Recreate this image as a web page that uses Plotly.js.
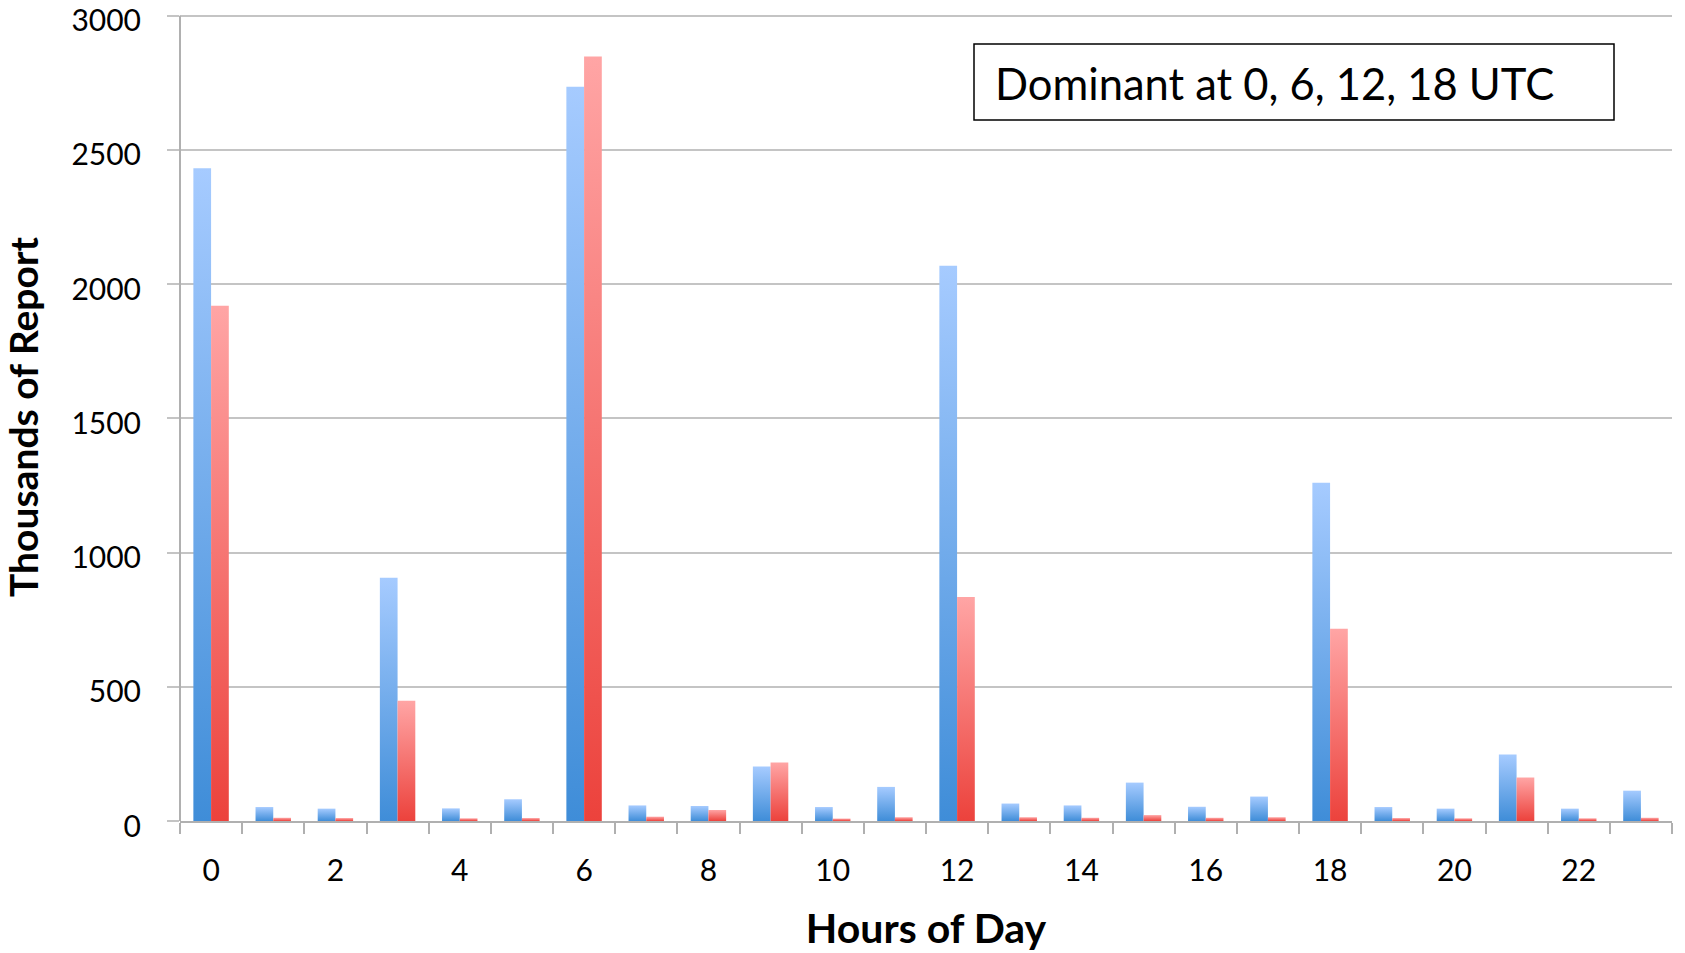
<!DOCTYPE html>
<html>
<head>
<meta charset="utf-8">
<script src="https://cdn.plot.ly/plotly-3.0.1.min.js"></script>
<style>
  html, body { margin: 0; padding: 0; background: #ffffff; }
  #chart { width: 1685px; height: 953px; }
</style>
</head>
<body>
<div id="chart"></div>
<script>
// ---- data ----
const hours = [0,1,2,3,4,5,6,7,8,9,10,11,12,13,14,15,16,17,18,19,20,21,22,23];
const seriesBlue = [2432, 52, 46, 906, 47, 81, 2735, 58, 56, 203, 52, 127, 2068, 65, 58, 143, 53, 91, 1260, 52, 46, 248, 46, 113];
const seriesRed  = [1919, 12, 11, 448, 10, 11, 2848, 16, 41, 218,  9,  14,  834, 14, 12,  22, 12, 14,  716, 11, 10, 162, 10,  12];
const xTickVals = [0,2,4,6,8,10,12,14,16,18,20,22];
const xTickText = ["0","2","4","6","8","10","12","14","16","18","20","22"];
const yTickVals = [0,500,1000,1500,2000,2500,3000];
const boundaries = [-0.5,0.5,1.5,2.5,3.5,4.5,5.5,6.5,7.5,8.5,9.5,10.5,11.5,12.5,13.5,14.5,15.5,16.5,17.5,18.5,19.5,20.5,21.5,22.5,23.5];
const annotationText = "Dominant at 0, 6, 12, 18 UTC";
const xTitle = "Hours of Day";
const yTitle = "Thousands of Report";

const FONT = "Lato, 'Open Sans', sans-serif";
const GRID = "#c4c4c4";
const AXIS = "#b0b0b0";

const traces = [
  { type: "bar", name: "Series 1", x: hours, y: seriesBlue,
    marker: { color: "#6fa9ea", line: { width: 0 } }, hoverinfo: "x+y" },
  { type: "bar", name: "Series 2", x: hours, y: seriesRed,
    marker: { color: "#f46e6a", line: { width: 0 } }, hoverinfo: "x+y" }
];

// plot area in pixels: x 180..1672, y 13..821 (3000 gridline near y=16)
const L = 180, R = 13, T = 13, B = 132;
const W = 1685, H = 953;
const pw = W - L - R, ph = H - T - B;
const px = v => (v - L) / pw;
const py = v => (H - B - v) / ph;

const layout = {
  width: W, height: H,
  margin: { l: L, r: R, t: T, b: B, pad: 0 },
  paper_bgcolor: "#ffffff",
  plot_bgcolor: "#ffffff",
  showlegend: false,
  barmode: "group",
  bargap: 0.43,
  bargroupgap: 0,
  font: { family: FONT, color: "#000000" },
  xaxis: {
    type: "linear",
    range: [-0.5, 23.5],
    tickmode: "array",
    tickvals: xTickVals,
    ticktext: xTickText,
    ticks: "",
    showgrid: false,
    zeroline: false,
    showline: true,
    linecolor: AXIS,
    linewidth: 2,
    ticklabelstandoff: 22,
    tickfont: { family: FONT, size: 30, color: "#000000" },
    minor: { tickmode: "array", tickvals: boundaries, ticks: "outside", ticklen: 11, tickwidth: 2, tickcolor: AXIS, showgrid: false },
    title: { text: xTitle, font: { family: FONT, size: 41, color: "#000000", weight: "bold" }, standoff: 28 },
    fixedrange: true
  },
  yaxis: {
    range: [0, 3010],
    tickmode: "array",
    tickvals: yTickVals,
    ticks: "outside",
    ticklen: 12,
    tickwidth: 2,
    tickcolor: GRID,
    showgrid: true,
    gridcolor: GRID,
    gridwidth: 2,
    zeroline: false,
    showline: false,
    ticklabelstandoff: 20,
    ticklabelshift: 5,
    ticklabeloverflow: "allow",
    tickfont: { family: FONT, size: 30, color: "#000000" },
    title: { text: yTitle, font: { family: FONT, size: 39, color: "#000000", weight: "bold" }, standoff: 24 },
    fixedrange: true
  },
  shapes: [
    // vertical axis line from 0 to 3000
    { type: "line", xref: "paper", yref: "y", x0: 0, x1: 0, y0: 0, y1: yTickVals[yTickVals.length - 1],
      line: { color: AXIS, width: 2 }, layer: "above" },
    { type: "rect", xref: "paper", yref: "paper",
      x0: px(974), x1: px(1614), y0: py(120), y1: py(44),
      line: { color: "#000000", width: 1.5 }, fillcolor: "#ffffff", layer: "above" }
  ],
  annotations: [
    { xref: "paper", yref: "paper", x: px(993), y: py(83), xanchor: "left", yanchor: "middle",
      text: annotationText, showarrow: false, align: "left",
      font: { family: FONT, size: 43.5, color: "#000000" } }
  ]
};

Plotly.newPlot("chart", traces, layout, { displayModeBar: false, staticPlot: true }).then(gd => {
  // vertical gradient fill for each bar (light top, darker bottom)
  const svg = gd.querySelector(".main-svg");
  const ns = "http://www.w3.org/2000/svg";
  let defs = svg.querySelector("defs");
  if (!defs) { defs = document.createElementNS(ns, "defs"); svg.insertBefore(defs, svg.firstChild); }
  const mk = (id, top, bottom) => {
    const g = document.createElementNS(ns, "linearGradient");
    g.setAttribute("id", id);
    g.setAttribute("x1", "0"); g.setAttribute("y1", "0");
    g.setAttribute("x2", "0"); g.setAttribute("y2", "1");
    const s1 = document.createElementNS(ns, "stop");
    s1.setAttribute("offset", "0"); s1.setAttribute("stop-color", top);
    const s2 = document.createElementNS(ns, "stop");
    s2.setAttribute("offset", "1"); s2.setAttribute("stop-color", bottom);
    g.appendChild(s1); g.appendChild(s2);
    defs.appendChild(g);
  };
  mk("gradBlue", "#a6cbff", "#3f8dd8");
  mk("gradRed", "#ffa5a5", "#ec423c");
  const traceGroups = gd.querySelectorAll(".barlayer .trace");
  const ids = ["gradBlue", "gradRed"];
  traceGroups.forEach((tg, i) => {
    tg.querySelectorAll(".point path").forEach(p => {
      p.style.fill = "url(#" + ids[i % 2] + ")";
    });
  });
});
</script>
</body>
</html>
